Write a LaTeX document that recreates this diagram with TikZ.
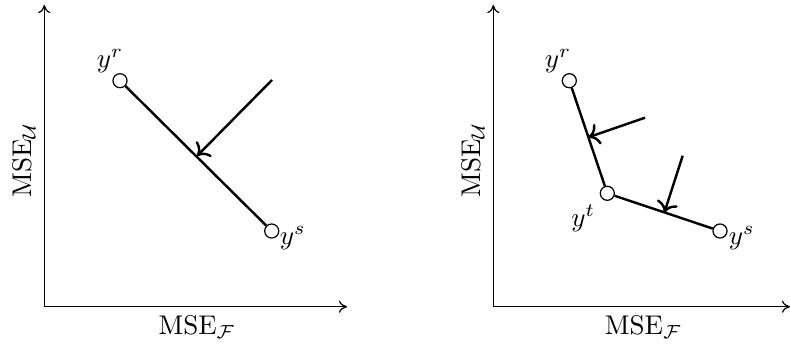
\documentclass[tikz,border=0pt]{standalone}
\usetikzlibrary{arrows.meta}
\begin{document}
\begin{tikzpicture}[x=0.37pt,y=-0.37pt,
  axis/.style={line width=0.45pt,-{To[length=3pt,width=4.5pt]}},
  seg/.style={line width=0.9pt},
  push/.style={line width=0.9pt,-{To[length=4pt,width=8pt]}},
  pt/.style={circle,draw,fill=white,line width=0.45pt,minimum size=5.2pt,inner sep=0pt},
  lab/.style={inner sep=0pt}]
\useasboundingbox (0,0) rectangle (790,345);
% ---------- left panel ----------
\coordinate (Lo) at (44.3,306.7);
\coordinate (Ly) at (44.3,5);
\coordinate (Lx) at (347,306.7);
\draw[axis] (Lo) -- (Ly);
\draw[axis] (Lo) -- (Lx);
\node[lab] (LxL) at (197,327) {$\mathrm{MSE}_{\mathcal{F}}$};
\node[lab,rotate=90] (LyL) at (24,160) {$\mathrm{MSE}_{\mathcal{U}}$};
\node[pt] (Lr) at (120,80.7) {};
\node[pt] (Ls) at (271.7,231) {};
\node[lab] (Lrl) at (110,61) {$y^r$};
\node[lab] (Lsl) at (292.7,238) {$y^s$};
\draw[seg] (Lr) -- (Ls);
\coordinate (La0) at (272,80);
\coordinate (La1) at (197,156);
\draw[push] (La0) -- (La1);
% ---------- right panel ----------
\coordinate (Ro) at (493.3,306.7);
\coordinate (Ry) at (493.3,5);
\coordinate (Rx) at (790,306.7);
\draw[axis] (Ro) -- (Ry);
\draw[axis] (Ro) -- (Rx);
\node[lab] (RxL) at (643.3,327) {$\mathrm{MSE}_{\mathcal{F}}$};
\node[lab,rotate=90] (RyL) at (473,160) {$\mathrm{MSE}_{\mathcal{U}}$};
\node[pt] (Rr) at (569.3,80.7) {};
\node[pt] (Rt) at (607.3,193.3) {};
\node[pt] (Rs) at (720,231) {};
\node[lab] (Rrl) at (558,61) {$y^r$};
\node[lab] (Rtl) at (583.3,218) {$y^t$};
\node[lab] (Rsl) at (741.7,238) {$y^s$};
\draw[seg] (Rr) -- (Rt);
\draw[seg] (Rt) -- (Rs);
\coordinate (Ra0) at (645,117.7);
\coordinate (Ra1) at (588.3,137.3);
\draw[push] (Ra0) -- (Ra1);
\coordinate (Rb0) at (682.7,155.7);
\coordinate (Rb1) at (664.3,212.7);
\draw[push] (Rb0) -- (Rb1);
\end{tikzpicture}
\end{document}
